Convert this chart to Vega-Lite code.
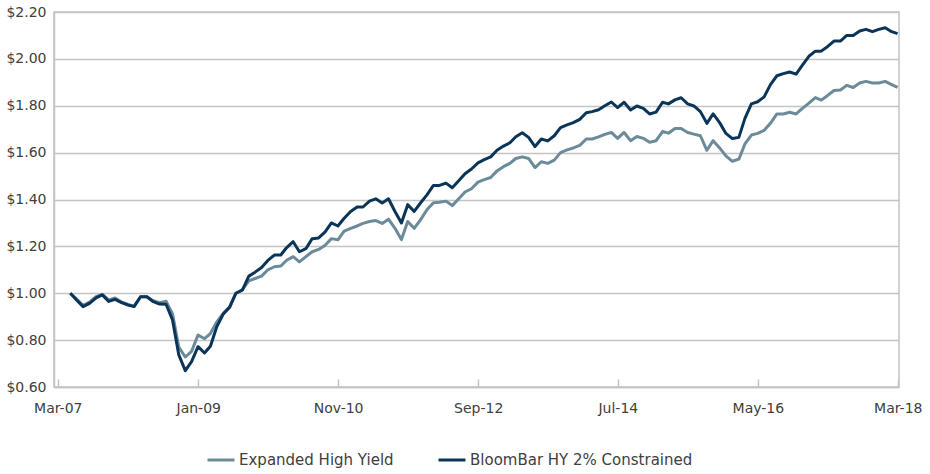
{
  "$schema": "https://vega.github.io/schema/vega-lite/v6.json",
  "width": 845,
  "height": 375,
  "autosize": {"type": "none"},
  "padding": {"left": 54, "top": 12, "right": 31, "bottom": 87},
  "background": "white",
  "config": {"font": "DejaVu Sans", "view": {"stroke": "#c4c4c4", "strokeWidth": 1.5}},
  "data": {"values": [
    {"d":"2007-04-30","E":1.000,"B":1.000},
    {"d":"2007-05-31","E":0.975,"B":0.970},
    {"d":"2007-06-30","E":0.948,"B":0.943},
    {"d":"2007-07-31","E":0.962,"B":0.957},
    {"d":"2007-08-31","E":0.985,"B":0.980},
    {"d":"2007-09-30","E":0.995,"B":0.993},
    {"d":"2007-10-31","E":0.972,"B":0.965},
    {"d":"2007-11-30","E":0.980,"B":0.974},
    {"d":"2007-12-31","E":0.963,"B":0.960},
    {"d":"2008-01-31","E":0.952,"B":0.950},
    {"d":"2008-02-29","E":0.945,"B":0.943},
    {"d":"2008-03-31","E":0.985,"B":0.985},
    {"d":"2008-04-30","E":0.985,"B":0.985},
    {"d":"2008-05-31","E":0.968,"B":0.964},
    {"d":"2008-06-30","E":0.960,"B":0.954},
    {"d":"2008-07-31","E":0.966,"B":0.953},
    {"d":"2008-08-31","E":0.912,"B":0.886},
    {"d":"2008-09-30","E":0.770,"B":0.737},
    {"d":"2008-10-31","E":0.728,"B":0.670},
    {"d":"2008-11-30","E":0.752,"B":0.708},
    {"d":"2008-12-31","E":0.822,"B":0.772},
    {"d":"2009-01-31","E":0.806,"B":0.745},
    {"d":"2009-02-28","E":0.828,"B":0.774},
    {"d":"2009-03-31","E":0.878,"B":0.858},
    {"d":"2009-04-30","E":0.914,"B":0.910},
    {"d":"2009-05-31","E":0.942,"B":0.940},
    {"d":"2009-06-30","E":1.000,"B":1.000},
    {"d":"2009-07-31","E":1.015,"B":1.013},
    {"d":"2009-08-31","E":1.053,"B":1.073},
    {"d":"2009-09-30","E":1.063,"B":1.090},
    {"d":"2009-10-31","E":1.073,"B":1.110},
    {"d":"2009-11-30","E":1.100,"B":1.140},
    {"d":"2009-12-31","E":1.113,"B":1.163},
    {"d":"2010-01-31","E":1.116,"B":1.163},
    {"d":"2010-02-28","E":1.141,"B":1.195},
    {"d":"2010-03-31","E":1.156,"B":1.220},
    {"d":"2010-04-30","E":1.134,"B":1.177},
    {"d":"2010-05-31","E":1.156,"B":1.190},
    {"d":"2010-06-30","E":1.177,"B":1.233},
    {"d":"2010-07-31","E":1.187,"B":1.236},
    {"d":"2010-08-31","E":1.205,"B":1.262},
    {"d":"2010-09-30","E":1.233,"B":1.300},
    {"d":"2010-10-31","E":1.228,"B":1.287},
    {"d":"2010-11-30","E":1.265,"B":1.320},
    {"d":"2010-12-31","E":1.277,"B":1.349},
    {"d":"2011-01-31","E":1.287,"B":1.368},
    {"d":"2011-02-28","E":1.298,"B":1.368},
    {"d":"2011-03-31","E":1.306,"B":1.393},
    {"d":"2011-04-30","E":1.310,"B":1.403},
    {"d":"2011-05-31","E":1.298,"B":1.385},
    {"d":"2011-06-30","E":1.316,"B":1.403},
    {"d":"2011-07-31","E":1.277,"B":1.349},
    {"d":"2011-08-31","E":1.229,"B":1.300},
    {"d":"2011-09-30","E":1.306,"B":1.378},
    {"d":"2011-10-31","E":1.277,"B":1.349},
    {"d":"2011-11-30","E":1.313,"B":1.385},
    {"d":"2011-12-31","E":1.356,"B":1.420},
    {"d":"2012-01-31","E":1.386,"B":1.460},
    {"d":"2012-02-29","E":1.388,"B":1.460},
    {"d":"2012-03-31","E":1.393,"B":1.470},
    {"d":"2012-04-30","E":1.374,"B":1.450},
    {"d":"2012-05-31","E":1.403,"B":1.480},
    {"d":"2012-06-30","E":1.432,"B":1.510},
    {"d":"2012-07-31","E":1.446,"B":1.530},
    {"d":"2012-08-31","E":1.474,"B":1.556},
    {"d":"2012-09-30","E":1.485,"B":1.570},
    {"d":"2012-10-31","E":1.494,"B":1.582},
    {"d":"2012-11-30","E":1.522,"B":1.610},
    {"d":"2012-12-31","E":1.540,"B":1.628},
    {"d":"2013-01-31","E":1.554,"B":1.642},
    {"d":"2013-02-28","E":1.575,"B":1.668},
    {"d":"2013-03-31","E":1.582,"B":1.685},
    {"d":"2013-04-30","E":1.575,"B":1.665},
    {"d":"2013-05-31","E":1.536,"B":1.626},
    {"d":"2013-06-30","E":1.561,"B":1.658},
    {"d":"2013-07-31","E":1.554,"B":1.650},
    {"d":"2013-08-31","E":1.568,"B":1.672},
    {"d":"2013-09-30","E":1.600,"B":1.707},
    {"d":"2013-10-31","E":1.612,"B":1.718},
    {"d":"2013-11-30","E":1.620,"B":1.728},
    {"d":"2013-12-31","E":1.631,"B":1.742},
    {"d":"2014-01-31","E":1.658,"B":1.770},
    {"d":"2014-02-28","E":1.658,"B":1.775},
    {"d":"2014-03-31","E":1.667,"B":1.783},
    {"d":"2014-04-30","E":1.678,"B":1.800},
    {"d":"2014-05-31","E":1.686,"B":1.816},
    {"d":"2014-06-30","E":1.661,"B":1.792},
    {"d":"2014-07-31","E":1.686,"B":1.815},
    {"d":"2014-08-31","E":1.651,"B":1.782},
    {"d":"2014-09-30","E":1.669,"B":1.799},
    {"d":"2014-10-31","E":1.661,"B":1.789},
    {"d":"2014-11-30","E":1.644,"B":1.765},
    {"d":"2014-12-31","E":1.651,"B":1.773},
    {"d":"2015-01-31","E":1.690,"B":1.815},
    {"d":"2015-02-28","E":1.683,"B":1.808},
    {"d":"2015-03-31","E":1.703,"B":1.825},
    {"d":"2015-04-30","E":1.703,"B":1.834},
    {"d":"2015-05-31","E":1.686,"B":1.808},
    {"d":"2015-06-30","E":1.679,"B":1.799},
    {"d":"2015-07-31","E":1.672,"B":1.775},
    {"d":"2015-08-31","E":1.610,"B":1.725},
    {"d":"2015-09-30","E":1.651,"B":1.765},
    {"d":"2015-10-31","E":1.620,"B":1.728},
    {"d":"2015-11-30","E":1.586,"B":1.682},
    {"d":"2015-12-31","E":1.563,"B":1.660},
    {"d":"2016-01-31","E":1.572,"B":1.665},
    {"d":"2016-02-29","E":1.637,"B":1.746},
    {"d":"2016-03-31","E":1.675,"B":1.808},
    {"d":"2016-04-30","E":1.682,"B":1.817},
    {"d":"2016-05-31","E":1.695,"B":1.838},
    {"d":"2016-06-30","E":1.725,"B":1.890},
    {"d":"2016-07-31","E":1.765,"B":1.928},
    {"d":"2016-08-31","E":1.765,"B":1.937},
    {"d":"2016-09-30","E":1.772,"B":1.944},
    {"d":"2016-10-31","E":1.765,"B":1.935},
    {"d":"2016-11-30","E":1.789,"B":1.973},
    {"d":"2016-12-31","E":1.811,"B":2.011},
    {"d":"2017-01-31","E":1.835,"B":2.033},
    {"d":"2017-02-28","E":1.824,"B":2.033},
    {"d":"2017-03-31","E":1.844,"B":2.053},
    {"d":"2017-04-30","E":1.865,"B":2.076},
    {"d":"2017-05-31","E":1.867,"B":2.076},
    {"d":"2017-06-30","E":1.887,"B":2.100},
    {"d":"2017-07-31","E":1.878,"B":2.100},
    {"d":"2017-08-31","E":1.897,"B":2.119},
    {"d":"2017-09-30","E":1.904,"B":2.126},
    {"d":"2017-10-31","E":1.897,"B":2.116},
    {"d":"2017-11-30","E":1.897,"B":2.126},
    {"d":"2017-12-31","E":1.904,"B":2.133},
    {"d":"2018-01-31","E":1.890,"B":2.116},
    {"d":"2018-02-28","E":1.878,"B":2.108}
  ]},
  "transform": [{"fold": ["E", "B"], "as": ["series", "value"]}],
  "mark": {"type": "line", "strokeWidth": 3, "strokeJoin": "round"},
  "encoding": {
    "x": {
      "field": "d", "type": "temporal",
      "scale": {"domain": [{"year": 2007, "month": 2, "date": 11}, {"year": 2018, "month": 3, "date": 7}]},
      "axis": {
        "values": [
          {"year": 2007, "month": 3, "date": 1},
          {"year": 2009, "month": 1, "date": 1},
          {"year": 2010, "month": 11, "date": 1},
          {"year": 2012, "month": 9, "date": 1},
          {"year": 2014, "month": 7, "date": 1},
          {"year": 2016, "month": 5, "date": 1},
          {"year": 2018, "month": 3, "date": 1}
        ],
        "format": "%b-%y", "title": null, "grid": false,
        "domainColor": "#c4c4c4", "domainWidth": 1.5,
        "tickColor": "#c4c4c4", "tickWidth": 1.5, "tickSize": -8,
        "labelPadding": 22, "labelFontSize": 14, "labelColor": "#404040", "labelFlush": false
      }
    },
    "y": {
      "field": "value", "type": "quantitative",
      "scale": {"domain": [0.6, 2.2], "nice": false, "zero": false},
      "axis": {
        "values": [0.6, 0.8, 1.0, 1.2, 1.4, 1.6, 1.8, 2.0, 2.2],
        "format": "$.2f", "title": null, "grid": true,
        "gridColor": "#c4c4c4", "gridWidth": 1.5,
        "domainColor": "#c4c4c4", "domainWidth": 1.5,
        "ticks": false, "labelPadding": 8, "labelFontSize": 14, "labelColor": "#404040"
      }
    },
    "color": {
      "field": "series", "type": "nominal",
      "scale": {"domain": ["E", "B"], "range": ["#6b8a9a", "#0b3558"]},
      "legend": {
        "orient": "none", "legendX": 152, "legendY": 433, "direction": "horizontal",
        "title": null, "symbolType": "stroke", "symbolSize": 729, "symbolStrokeWidth": 3,
        "labelFontSize": 15, "labelColor": "#404040", "labelOffset": 3, "labelLimit": 400,
        "labelBaseline": "middle",
        "columnPadding": 38, "padding": 0,
        "labelExpr": "datum.label == 'E' ? 'Expanded High Yield' : 'BloomBar HY 2% Constrained'"
      }
    }
  }
}
